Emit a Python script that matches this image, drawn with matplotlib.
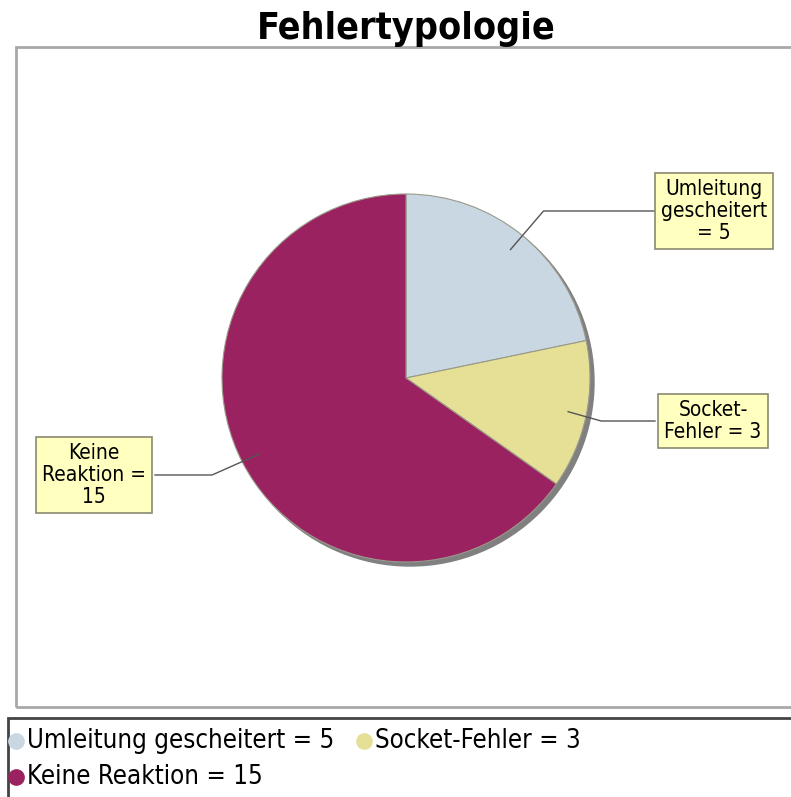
import numpy as np
import matplotlib.pyplot as plt
from matplotlib.patches import Circle, Rectangle

categories = ['Umleitung gescheitert', 'Socket-Fehler', 'Keine Reaktion']
values = [5, 3, 15]
colors = ['#c9d7e3', '#e6e096', '#9b2260']
label_texts = ['Umleitung\ngescheitert\n= 5', 'Socket-\nFehler = 3', 'Keine\nReaktion =\n15']
legend_texts = ['Umleitung gescheitert = 5', 'Socket-Fehler = 3', 'Keine Reaktion = 15']

W, H = 791, 797
fig = plt.figure(figsize=(W / 100, H / 100), dpi=100)
ax = fig.add_axes([0, 0, 1, 1])

def py(y):
    # pixel row (top-down) to axis y
    return H - y

font = dict(family='DejaVu Sans', stretch='condensed')

# title
ax.text(406, py(29), 'Fehlertypologie', ha='center', va='center',
        fontsize=27, fontweight='bold', **font)

# plot area frame
ax.add_patch(Rectangle((16, py(707)), 800, 660, fill=False, ec='#a8a8a8', lw=2))

# pie with drop shadow
cx, cy, r = 406, py(378), 184
ax.add_patch(Circle((cx + 4, cy - 4), r, color='#808080', zorder=1))
wedges, _ = ax.pie(values, colors=colors, startangle=90, counterclock=False,
                   center=(cx, cy), radius=r, frame=True,
                   wedgeprops=dict(linewidth=0.8, edgecolor='#9a9a8a'))
for w in wedges:
    w.set_zorder(2)
ax.set_xlim(0, W)
ax.set_ylim(0, H)
ax.axis('off')

# labels with leader lines
label_pos = [(714, 211), (713, 421), (94, 475)]
for w, txt, (lx, ly) in zip(wedges, label_texts, label_pos):
    mid = np.deg2rad((w.theta1 + w.theta2) / 2)
    sx, sy = cx + 0.9 * r * np.cos(mid), cy + 0.9 * r * np.sin(mid)
    ly_ax = py(ly)
    if lx > cx:
        ex = sx + 33
        bx = lx - 58
    else:
        ex = sx - 47
        bx = lx + 61
    ax.plot([sx, ex, bx], [sy, ly_ax, ly_ax], color='#555555', lw=1, zorder=3)
    ax.text(lx, ly_ax, txt, ha='center', va='center', fontsize=15,
            linespacing=1.12, zorder=5, **font,
            bbox=dict(boxstyle='square,pad=0.3', fc='#ffffc0', ec='#8a8a70', lw=1.2))

# legend box
ax.add_patch(Rectangle((8, py(800)), 800, 82, fill=False, ec='#444444', lw=2))
leg_items = [(16, 741), (364, 741), (16, 777)]
for (mx, my), c, t in zip(leg_items, colors, legend_texts):
    ax.plot(mx, py(my), 'o', ms=11, color=c, mec=c)
    ax.text(mx + 11, py(my), t, ha='left', va='center', fontsize=18.5, **font)

fig.savefig('out.png', dpi=100)
